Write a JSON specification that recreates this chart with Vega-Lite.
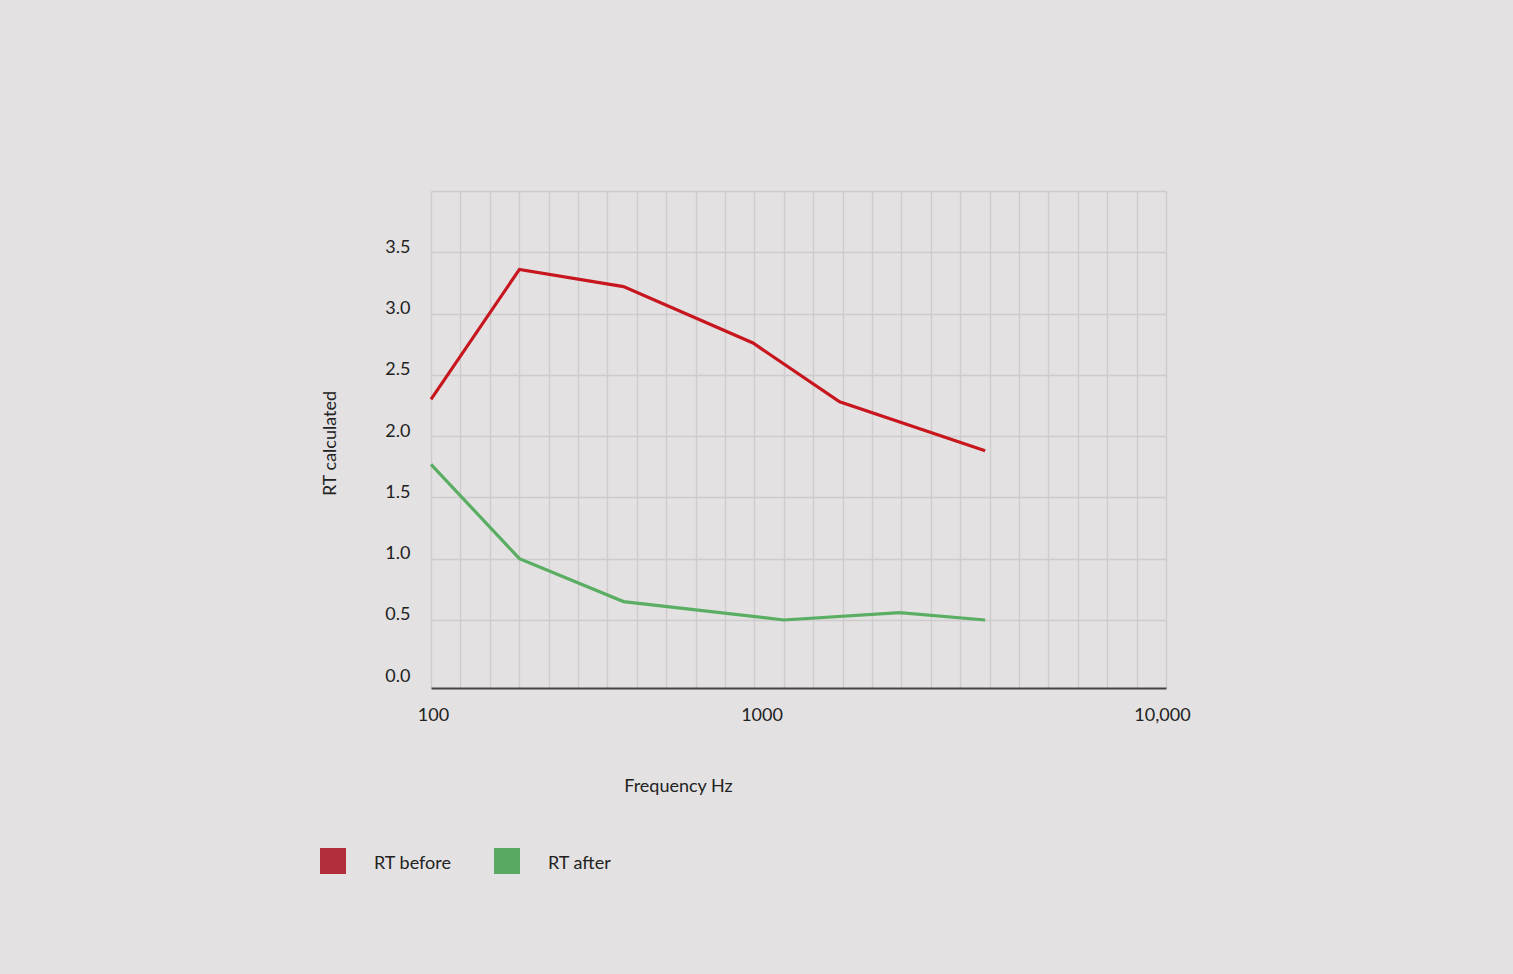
{
  "$schema": "https://vega.github.io/schema/vega-lite/v6.json",
  "autosize": {"type": "none"},
  "width": 735,
  "height": 497,
  "padding": {"left": 431, "top": 191, "right": 347, "bottom": 286},
  "background": "#e3e1e2",
  "config": {
    "view": {"stroke": null},
    "font": "Lato",
    "axis": {
      "labelFont": "Lato",
      "titleFont": "Lato",
      "labelFontSize": 18,
      "titleFontSize": 18,
      "titleFontWeight": "normal",
      "labelColor": "#222222",
      "titleColor": "#222222",
      "gridColor": "#cdcbcc",
      "gridWidth": 1.3,
      "ticks": false
    },
    "legend": {"labelFont": "Lato", "labelFontSize": 18, "labelColor": "#222222"}
  },
  "data": {
    "values": [
      {"series": "RT before", "freq": 100, "rt": 2.30},
      {"series": "RT before", "freq": 174, "rt": 3.36},
      {"series": "RT before", "freq": 334, "rt": 3.22},
      {"series": "RT before", "freq": 752, "rt": 2.76},
      {"series": "RT before", "freq": 1294, "rt": 2.28},
      {"series": "RT before", "freq": 3220, "rt": 1.88},
      {"series": "RT after", "freq": 100, "rt": 1.77},
      {"series": "RT after", "freq": 174, "rt": 1.00},
      {"series": "RT after", "freq": 334, "rt": 0.65},
      {"series": "RT after", "freq": 912, "rt": 0.50},
      {"series": "RT after", "freq": 1884, "rt": 0.56},
      {"series": "RT after", "freq": 3220, "rt": 0.50}
    ]
  },
  "mark": {"type": "line", "strokeWidth": 3.2},
  "encoding": {
    "x": {
      "field": "freq",
      "type": "quantitative",
      "title": "Frequency Hz",
      "scale": {"type": "log", "domain": [100, 10000], "nice": false},
      "axis": {
        "values": [100, 120.23, 144.54, 173.78, 208.93, 251.19, 301.99, 363.08, 436.52, 524.81, 630.96, 758.58, 912.01, 1000, 1096.5, 1318.3, 1584.9, 1905.5, 2290.9, 2754.2, 3311.3, 3981.1, 4786.3, 5754.4, 6918.3, 8317.6, 10000],
        "labelExpr": "datum.value == 100 ? '100' : datum.value == 1000 ? '1000' : datum.value == 10000 ? '10,000' : ''",
        "labelOffset": {"condition": [{"test": "datum.value == 1000", "value": -37}, {"test": "datum.value == 10000", "value": -4}, {"test": "datum.value == 100", "value": 2}], "value": 0},
        "labelBaseline": "alphabetic",
        "labelPadding": 32,
        "labelFlush": false,
        "labelOverlap": false,
        "gridOpacity": {"condition": {"test": "datum.value == 1000", "value": 0}, "value": 1},
        "domainColor": "#444444",
        "domainWidth": 2,
        "titleX": 247,
        "titleY": 103,
        "titleAlign": "center",
        "titleBaseline": "alphabetic"
      }
    },
    "y": {
      "field": "rt",
      "type": "quantitative",
      "title": "RT calculated",
      "scale": {"domain": [-0.055, 4], "nice": false, "zero": false},
      "axis": {
        "values": [0, 0.5, 1, 1.5, 2, 2.5, 3, 3.5, 4],
        "format": ".1f",
        "labelExpr": "datum.value == 4 ? '' : datum.label",
        "labelBaseline": "alphabetic",
        "labelPadding": 21,
        "domain": false,
        "gridOpacity": {"condition": {"test": "datum.value == 0", "value": 0}, "value": 1},
        "titleAngle": -90,
        "titleX": -101,
        "titleY": 252,
        "titleAlign": "center",
        "titleBaseline": "middle"
      }
    },
    "color": {
      "field": "series",
      "type": "nominal",
      "scale": {"domain": ["RT before", "RT after"], "range": ["#c8161f", "#5aae63"]},
      "legend": {
        "title": null,
        "orient": "none",
        "direction": "horizontal",
        "legendX": -111,
        "legendY": 657,
        "symbolType": "square",
        "symbolSize": 676,
        "symbolStrokeWidth": 0,
        "labelOffset": 28,
        "columnPadding": 42,
        "encode": {
          "symbols": {
            "update": {
              "fill": {"signal": "datum.value === 'RT before' ? '#b22e3c' : '#58aa62'"},
              "fillOpacity": {"value": 1},
              "strokeWidth": {"value": 0}
            }
          },
          "labels": {
            "update": {"dy": {"value": 3}}
          }
        }
      }
    }
  }
}
